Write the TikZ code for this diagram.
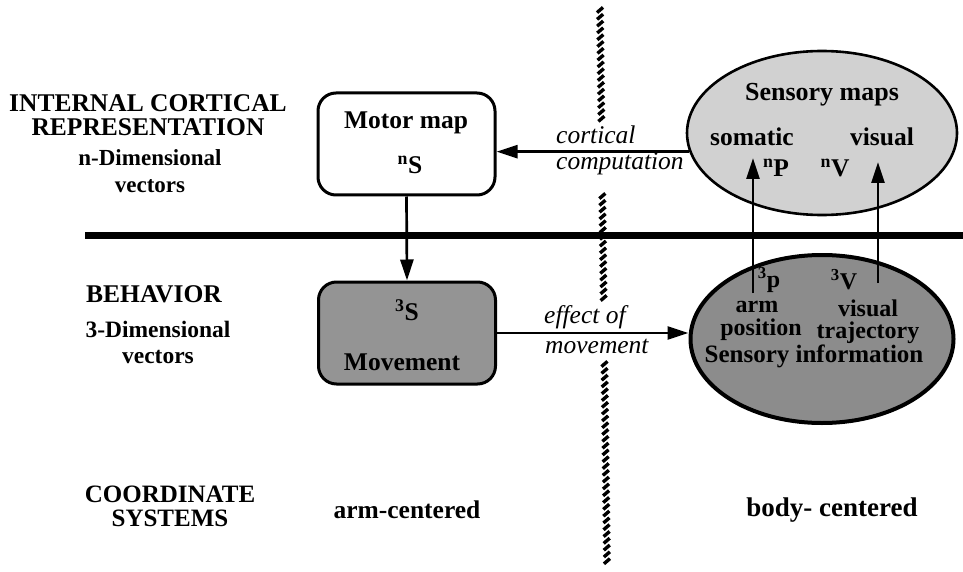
\documentclass[tikz,border=0pt]{standalone}
\usepackage{fontspec}
\setmainfont{Liberation Serif}
\usetikzlibrary{arrows.meta,shapes.geometric}

\tikzset{
  lbl/.style={font=\bfseries\fontsize{25.5}{24}\selectfont, align=center, inner sep=0pt},
  inlbl/.style={lbl, font=\bfseries\fontsize{24}{24}\selectfont},
  ital/.style={font=\itshape\fontsize{25.5}{26}\selectfont, align=left, inner sep=0pt, anchor=west},
  arr/.style={line width=2.7pt, -{Triangle[length=21pt,width=13pt]}},
  roundbox/.style={draw, line width=3pt, rounded corners=18pt, minimum width=177pt, minimum height=102pt, inner sep=0pt},
  oval/.style={draw, ellipse, inner sep=0pt},
  rope/.style={line width=3.4pt, line cap=butt},
  divider/.style={line width=7pt}
}

\begin{document}
\begin{tikzpicture}[x=1pt,y=-1pt]
\useasboundingbox (0,0) rectangle (963,572);

% level divider
\coordinate (hl) at (85,235);
\coordinate (hr) at (963,235);
\draw[divider] (hl) -- (hr);

% twisted rope separating the two coordinate frames (gaps left for the labels)
\foreach \y in {10,16.8,...,120,196,202.8,...,304,364,370.8,...,562}{
  \draw[rope] ({600+0.0126*(\y-10)-3},{\y+2.6}) -- ++(6,-5.2);
}

% left column
\node[lbl] (icr) at (148,115) {INTERNAL CORTICAL\\REPRESENTATION};
\node[lbl, font=\bfseries\fontsize{23}{27}\selectfont] (ndim) at (150,171) {n-Dimensional\\vectors};
\node[lbl] (beh) at (154,294) {BEHAVIOR};
\node[lbl, font=\bfseries\fontsize{23.5}{26}\selectfont] (tdim) at (158,342) {3-Dimensional\\vectors};
\node[lbl, font=\bfseries\fontsize{25}{24}\selectfont] (coord) at (170,506) {COORDINATE\\SYSTEMS};
\node[lbl] (armc) at (407,510) {arm-centered};
\node[lbl, font=\bfseries\fontsize{27}{24}\selectfont] (bodyc) at (832,510) {body- centered};

% motor map box
\node[roundbox, fill=white] (motor) at (406.5,144) {};
\node[lbl] (motort) at (406,123) {Motor map};
\node[lbl] (nS) at (410,165) {\textsuperscript{n}S};

% movement box
\node[roundbox, fill=black!42] (move) at (407,333) {};
\node[lbl] (tS) at (407,310) {\textsuperscript{3}S};
\node[lbl] (movet) at (402,362) {Movement};

% sensory maps
\node[oval, line width=2.6pt, fill=black!18, minimum width=270pt, minimum height=164pt] (topell) at (822,133) {};
\node[lbl, font=\bfseries\fontsize{26}{24}\selectfont] (smaps) at (822,95) {Sensory maps};
\node[lbl] (soma) at (752,137) {somatic};
\node[lbl] (visa) at (882,137) {visual};
\node[lbl] (nP) at (776,168) {\textsuperscript{n}P};
\node[lbl] (nV) at (835,168) {\textsuperscript{n}V};

% sensory information
\node[oval, line width=4pt, fill=black!45, minimum width=263pt, minimum height=168pt] (botell) at (822,339) {};
\node[inlbl] (tp) at (769,280) {\textsuperscript{3}p};
\node[inlbl] (tV) at (844,280) {\textsuperscript{3}V};
\node[inlbl] (arm) at (757,307) {arm};
\node[inlbl] (visb) at (868,308) {visual};
\node[inlbl] (pos) at (761,330) {position};
\node[inlbl] (traj) at (868,333) {trajectory};
\node[inlbl, font=\bfseries\fontsize{25}{24}\selectfont] (sinf) at (814,356) {Sensory information};

% connector labels
\node[ital] (cort) at (556,135) {cortical};
\node[ital] (comp) at (556,164) {computation};
\node[ital] (eff) at (544,317) {effect of};
\node[ital] (mov) at (545,346) {movement};

% connectors
\draw[arr] (topell.188) -- (topell.188 -| motor.east);
\draw[arr] (motor.south) -- (move.north);
\draw[arr] (move.east) -- (move.east -| botell.west);

\coordinate (pstart) at (753,293);
\coordinate (pend) at (753,158);
\coordinate (vstart) at (878,283);
\coordinate (vend) at (878,162);
\draw[arr] (pstart) -- (pend);
\draw[arr] (vstart) -- (vend);
\end{tikzpicture}
\end{document}
